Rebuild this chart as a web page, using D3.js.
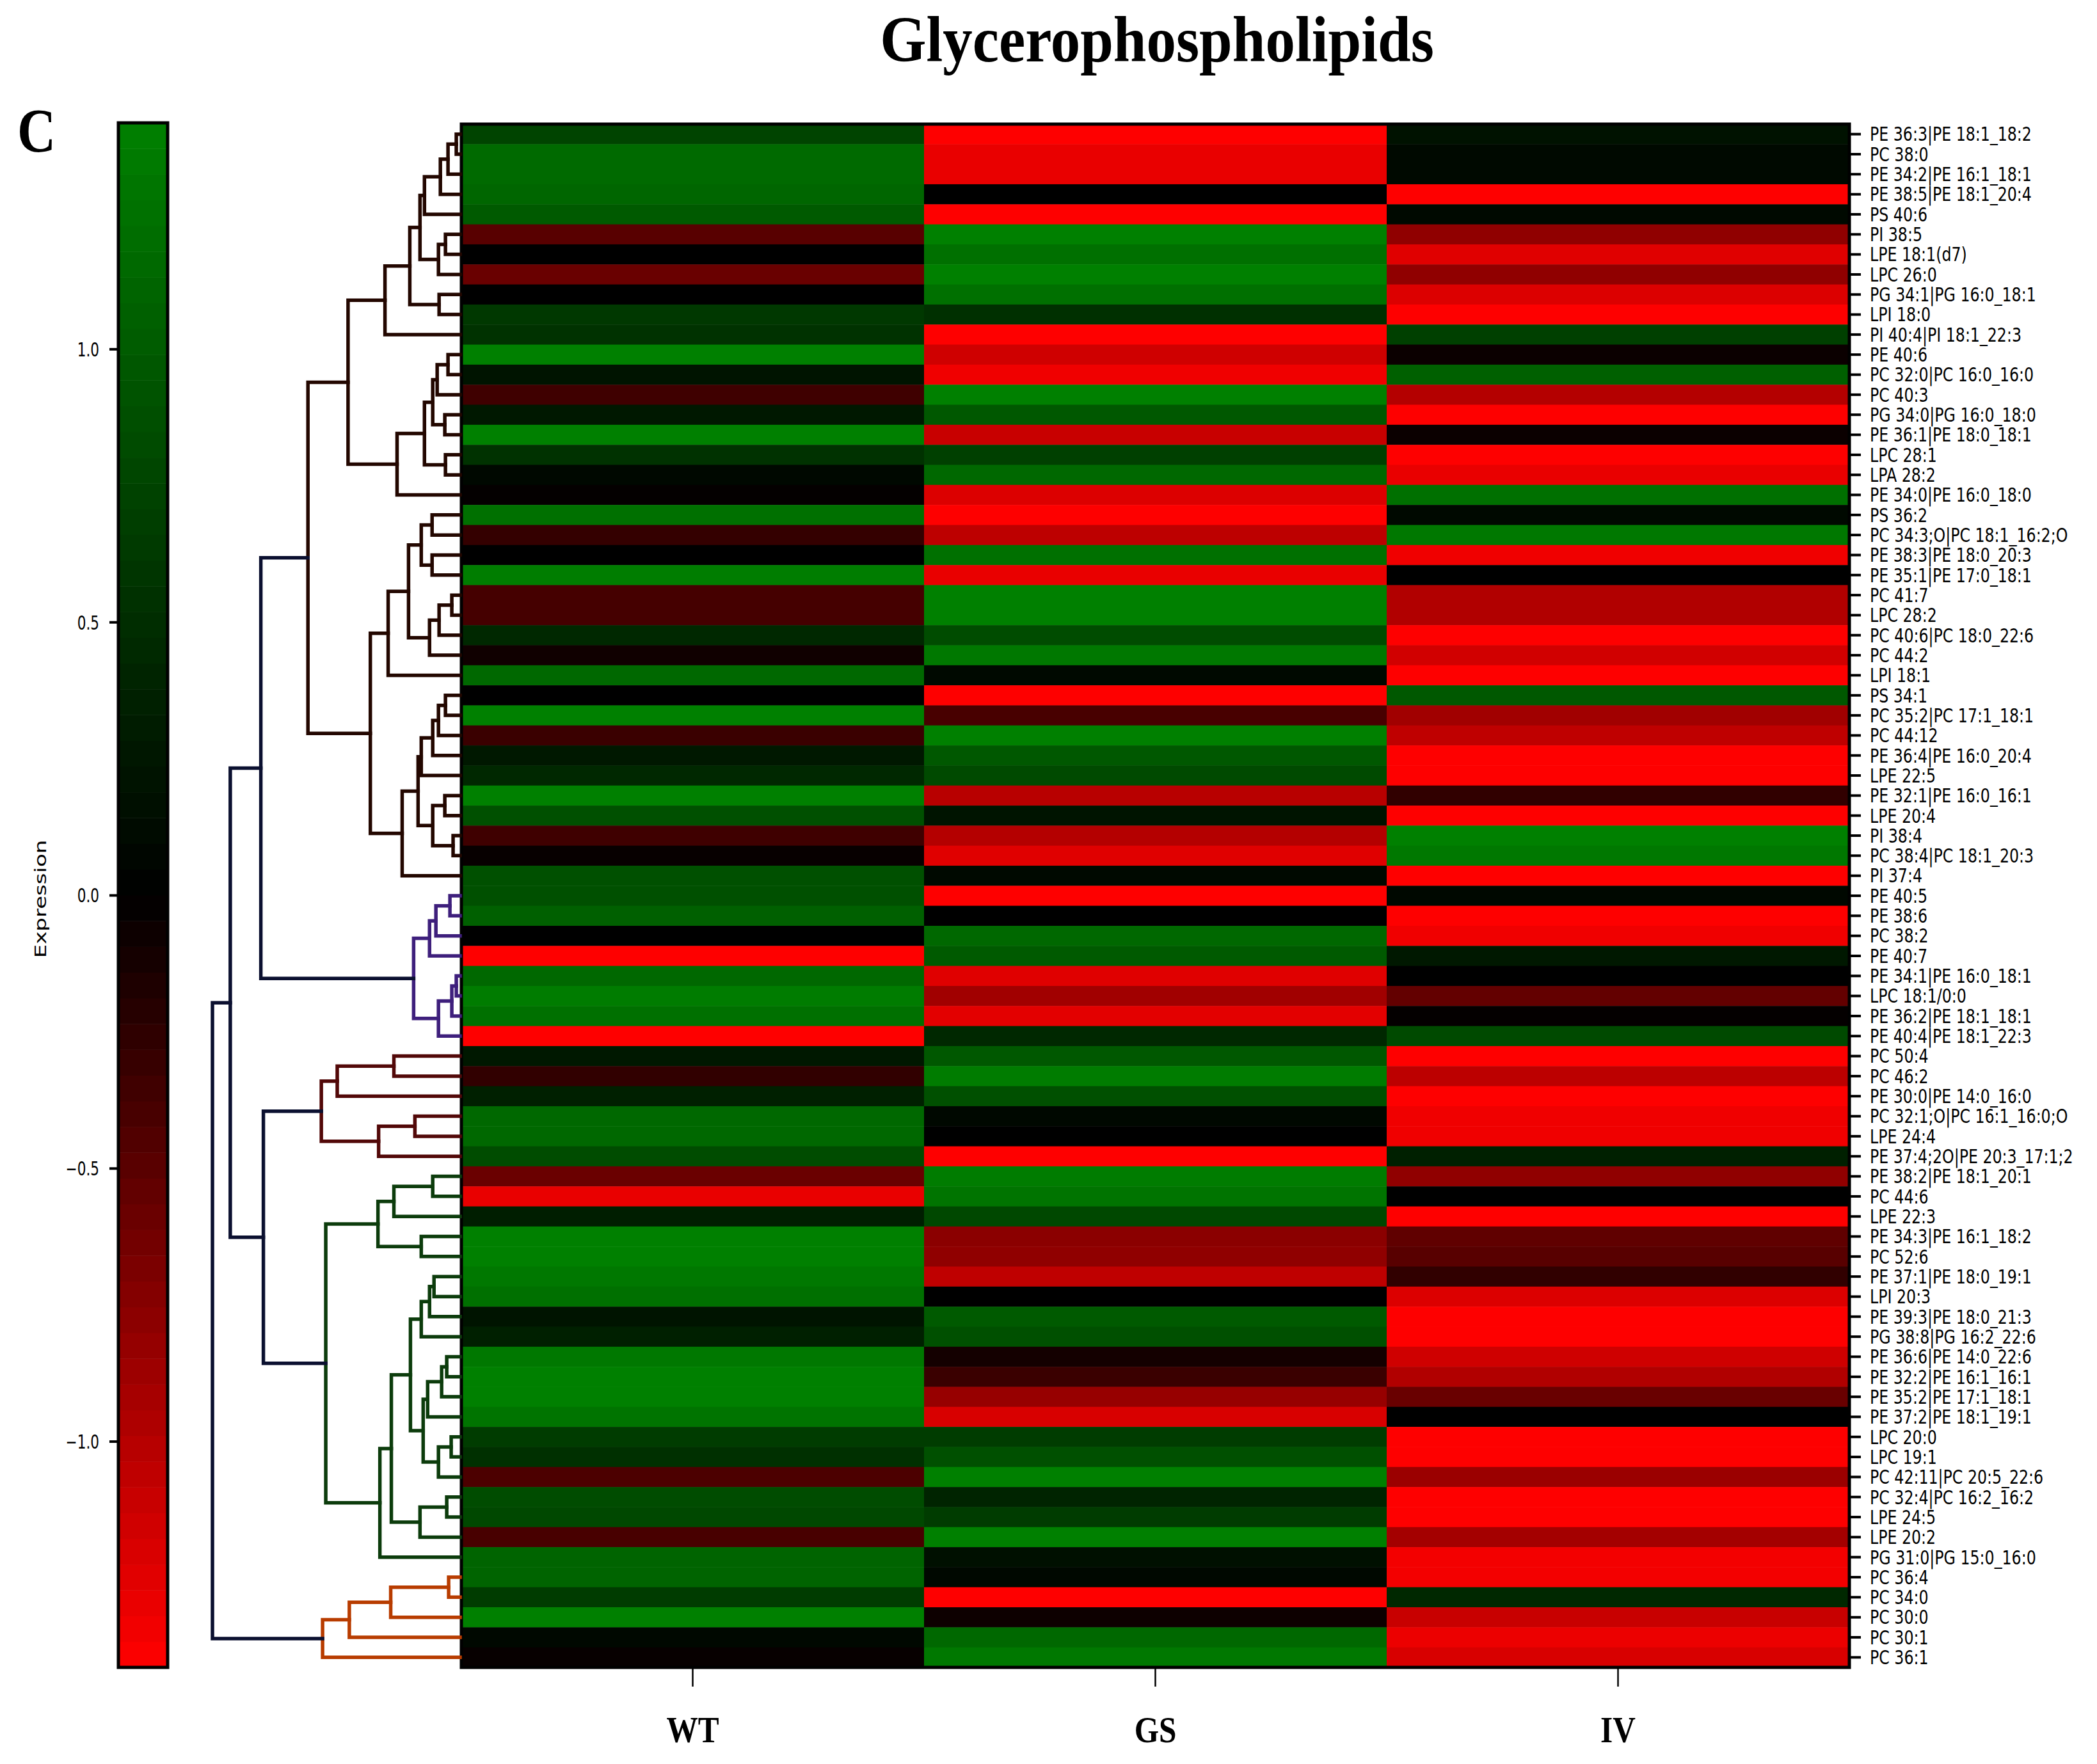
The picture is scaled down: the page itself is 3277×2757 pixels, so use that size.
<!DOCTYPE html>
<html>
<head>
<meta charset="utf-8">
<script src="https://cdn.jsdelivr.net/npm/d3@7"></script>
<style>body{margin:0;background:#fff}</style>
</head>
<body>
<script>
// rows, in dendrogram order (top to bottom)
const lipids = [
  "PE 36:3|PE 18:1_18:2","PC 38:0","PE 34:2|PE 16:1_18:1","PE 38:5|PE 18:1_20:4","PS 40:6",
  "PI 38:5","LPE 18:1(d7)","LPC 26:0","PG 34:1|PG 16:0_18:1","LPI 18:0",
  "PI 40:4|PI 18:1_22:3","PE 40:6","PC 32:0|PC 16:0_16:0","PC 40:3","PG 34:0|PG 16:0_18:0",
  "PE 36:1|PE 18:0_18:1","LPC 28:1","LPA 28:2","PE 34:0|PE 16:0_18:0","PS 36:2",
  "PC 34:3;O|PC 18:1_16:2;O","PE 38:3|PE 18:0_20:3","PE 35:1|PE 17:0_18:1","PC 41:7","LPC 28:2",
  "PC 40:6|PC 18:0_22:6","PC 44:2","LPI 18:1","PS 34:1","PC 35:2|PC 17:1_18:1",
  "PC 44:12","PE 36:4|PE 16:0_20:4","LPE 22:5","PE 32:1|PE 16:0_16:1","LPE 20:4",
  "PI 38:4","PC 38:4|PC 18:1_20:3","PI 37:4","PE 40:5","PE 38:6",
  "PC 38:2","PE 40:7","PE 34:1|PE 16:0_18:1","LPC 18:1/0:0","PE 36:2|PE 18:1_18:1",
  "PE 40:4|PE 18:1_22:3","PC 50:4","PC 46:2","PE 30:0|PE 14:0_16:0","PC 32:1;O|PC 16:1_16:0;O",
  "LPE 24:4","PE 37:4;2O|PE 20:3_17:1;2","PE 38:2|PE 18:1_20:1","PC 44:6","LPE 22:3",
  "PE 34:3|PE 16:1_18:2","PC 52:6","PE 37:1|PE 18:0_19:1","LPI 20:3","PE 39:3|PE 18:0_21:3",
  "PG 38:8|PG 16:2_22:6","PE 36:6|PE 14:0_22:6","PE 32:2|PE 16:1_16:1","PE 35:2|PE 17:1_18:1","PE 37:2|PE 18:1_19:1",
  "LPC 20:0","LPC 19:1","PC 42:11|PC 20:5_22:6","PC 32:4|PC 16:2_16:2","LPE 24:5",
  "LPE 20:2","PG 31:0|PG 15:0_16:0","PC 36:4","PC 34:0","PC 30:0",
  "PC 30:1","PC 36:1"
];
const groups = ["WT", "GS", "IV"];

// row z-scores
const wt = [0.75,1.17,1.17,1.13,0.99,-0.49,0,-0.58,0,0.62,
  0.55,1.41,0.22,-0.35,0.27,1.41,0.55,0.09,-0.02,1.24,
  -0.29,0,1.38,-0.38,-0.38,0.44,-0.09,1.15,0,1.41,
  -0.32,0.27,0.44,1.41,0.88,-0.35,-0.04,0.88,0.88,1.06,
  0,-1.41,1.15,1.37,1.24,-1.41,0.27,-0.27,0.35,1.15,
  1.15,0.84,-0.59,-1.29,0.33,1.41,1.41,1.33,1.24,0.22,
  0.35,1.33,1.41,1.41,1.28,0.66,0.53,-0.42,0.84,0.8,
  -0.4,1.1,1.1,0.66,1.41,0.09,-0.04];
const gs = [-1.41,-1.29,-1.29,0,-1.41,1.41,1.24,1.41,1.24,0.53,
  -1.41,-1.15,-1.33,1.41,0.97,-1.11,0.71,1.15,-1.22,-1.41,
  -1.05,1.24,-1.29,1.41,1.41,0.84,1.33,0.1,-1.41,-0.4,
  1.41,0.97,0.82,-1.02,0.22,-1.0,-1.24,0.1,-1.41,0,
  1.15,0.99,-1.24,-0.89,-1.26,0.44,0.97,1.37,0.88,0.09,
  0,-1.41,1.37,1.28,0.8,-0.77,-0.8,-1.06,0,0.99,
  0.88,-0.11,-0.32,-0.84,-1.2,0.66,0.88,1.41,0.4,0.66,
  1.41,0.18,0.09,-1.41,-0.07,1.15,1.33];
const iv = [0.2,0.1,0.1,-1.41,0.1,-0.8,-1.24,-0.8,-1.22,-1.41,
  0.71,-0.06,1.06,-1.0,-1.41,-0.06,-1.41,-1.29,1.24,0.1,
  1.33,-1.33,0,-0.98,-0.98,-1.41,-1.16,-1.41,0.97,-0.89,
  -1.06,-1.41,-1.41,-0.27,-1.41,1.41,1.33,-1.41,0.09,-1.41,
  -1.33,0.27,0,-0.55,-0.02,0.82,-1.41,-1.04,-1.41,-1.33,
  -1.33,0.35,-0.8,0,-1.41,-0.53,-0.49,-0.27,-1.22,-1.41,
  -1.41,-1.15,-0.98,-0.58,0,-1.41,-1.41,-0.86,-1.41,-1.41,
  -0.91,-1.35,-1.35,0.44,-1.11,-1.31,-1.2];

// linkage, scipy style: [child a, child b, height]; ids >= 77 are earlier merges
const merges = [
  [0,1,0.06],[77,2,0.19],[78,3,0.31],[79,4,0.56],[5,6,0.23],[81,7,0.34],[80,82,0.63],[8,9,0.33],
  [83,84,0.79],[85,10,1.18],[11,12,0.19],[87,13,0.36],[14,15,0.24],[88,89,0.43],[16,17,0.23],
  [90,91,0.56],[92,18,0.99],[86,93,1.76],[19,20,0.44],[21,22,0.44],[95,96,0.61],[23,24,0.13],
  [98,25,0.33],[99,26,0.48],[97,100,0.81],[101,27,1.13],[28,29,0.23],[103,30,0.34],[104,31,0.43],
  [105,32,0.61],[33,34,0.24],[35,36,0.11],[107,108,0.43],[106,109,0.66],[110,37,0.91],
  [102,111,1.41],[94,112,2.39],
  [38,39,0.16],[114,40,0.38],[115,41,0.48],[42,43,0.06],[117,44,0.13],[118,45,0.34],
  [116,119,0.73],[113,120,3.13],
  [46,47,1.04],[122,48,1.93],[49,50,0.71],[124,51,1.28],[123,125,2.18],
  [52,53,0.43],[127,54,1.04],[55,56,0.61],[128,129,1.29],[57,58,0.41],[131,59,0.48],[132,60,0.61],
  [61,62,0.21],[134,63,0.29],[135,64,0.51],[65,66,0.14],[137,67,0.34],[136,138,0.58],
  [133,139,0.78],[68,69,0.21],[141,70,0.63],[140,142,1.08],[143,71,1.26],[130,144,2.11],
  [126,145,3.09],[121,146,3.61],
  [72,73,0.18],[148,74,1.09],[149,75,1.74],[150,76,2.16],[147,151,3.89]
];
const clusterSizes = [38, 8, 6, 20, 5];
const clusterColors = ["#230700", "#3e1f7c", "#520808", "#0c3c0c", "#b83c00"];
const aboveColor = "#0b1030";
const cbTicks = [-1, -0.5, 0, 0.5, 1];

const W = 3277, H = 2757;
const svg = d3.select("body").append("svg").attr("width", W).attr("height", H);

const hm = {left: 721, right: 2890, top: 194, bottom: 2606};
const y = d3.scaleBand().domain(d3.range(lipids.length)).range([hm.top, hm.bottom]);
const x = d3.scaleBand().domain(groups).range([hm.left, hm.right]);
const vmax = 1.414;
const color = d3.scaleLinear().domain([-vmax, 0, vmax])
  .range(["#ff0000", "#000000", "#008000"]).clamp(true);

// ---- heatmap cells ----
const cells = [];
lipids.forEach((name, i) => {
  [wt, gs, iv].forEach((s, j) => cells.push({i, g: groups[j], v: s[i]}));
});
svg.append("g").selectAll("rect").data(cells).join("rect")
  .attr("x", d => x(d.g)).attr("y", d => y(d.i))
  .attr("width", x.bandwidth() + 0.5).attr("height", y.bandwidth() + 0.5)
  .attr("fill", d => color(d.v));

svg.append("rect")
  .attr("x", hm.left).attr("y", hm.top)
  .attr("width", hm.right - hm.left).attr("height", hm.bottom - hm.top)
  .attr("fill", "none").attr("stroke", "#000").attr("stroke-width", 5);

// ---- dendrogram ----
const n = lipids.length;
const leafCluster = clusterSizes.flatMap((s, c) => d3.range(s).map(() => c));
const nodes = d3.range(n).map(i => ({pos: y(i) + y.bandwidth() / 2, h: 0, cl: leafCluster[i]}));
merges.forEach(([a, b, h]) => {
  const A = nodes[a], B = nodes[b];
  nodes.push({a: A, b: B, h, pos: (A.pos + B.pos) / 2, cl: A.cl === B.cl ? A.cl : -1});
});
const dx = d3.scaleLinear().domain([0, d3.max(merges, m => m[2])]).range([hm.left - 2, 332]);

svg.append("g")
    .attr("fill", "none").attr("stroke-width", 5.5).attr("stroke-linecap", "square")
  .selectAll("path").data(nodes.slice(n)).join("path")
    .attr("stroke", d => d.cl < 0 ? aboveColor : clusterColors[d.cl])
    .attr("d", d => `M${dx(d.a.h)},${d.a.pos}H${dx(d.h)}V${d.b.pos}H${dx(d.b.h)}`);

// ---- row labels ----
const rowAxis = svg.append("g").attr("transform", `translate(${hm.right},0)`)
  .call(d3.axisRight(y).tickSize(18).tickFormat(i => lipids[i]));
rowAxis.select(".domain").remove();
rowAxis.selectAll("line").attr("stroke", "#000").attr("stroke-width", 4);
rowAxis.selectAll("text")
  .attr("font-family", "DejaVu Sans").attr("font-size", 30).attr("fill", "#000")
  .attr("x", 32 / 0.79).attr("dy", "0.36em")
  .attr("transform", "scale(0.79,1)");

// ---- column labels ----
const colAxis = svg.append("g").attr("transform", `translate(0,${hm.bottom})`)
  .call(d3.axisBottom(x).tickSize(30));
colAxis.select(".domain").remove();
colAxis.selectAll("line").attr("stroke", "#000").attr("stroke-width", 2.5);
colAxis.selectAll("text")
  .attr("font-family", "Liberation Serif").attr("font-weight", "bold")
  .attr("font-size", 58).attr("fill", "#000")
  .attr("y", 117).attr("dy", 0)
  .attr("transform", "scale(0.85,1)");

// ---- colour bar ----
const cb = {left: 185, right: 262, top: 192, bottom: 2606};
const cy = d3.scaleLinear().domain([-vmax, vmax]).range([cb.bottom, cb.top]);
const nSteps = 60;
const steps = d3.range(nSteps).map(k => -vmax + (k + 0.5) * 2 * vmax / nSteps);
svg.append("g").selectAll("rect").data(steps).join("rect")
  .attr("x", cb.left).attr("width", cb.right - cb.left)
  .attr("y", d => cy(d + vmax / nSteps))
  .attr("height", (cb.bottom - cb.top) / nSteps + 0.5)
  .attr("fill", d => color(d));
svg.append("rect")
  .attr("x", cb.left).attr("y", cb.top)
  .attr("width", cb.right - cb.left).attr("height", cb.bottom - cb.top)
  .attr("fill", "none").attr("stroke", "#000").attr("stroke-width", 5);

const cbAxis = svg.append("g").attr("transform", `translate(${cb.left},0)`)
  .call(d3.axisLeft(cy).tickValues(cbTicks).tickSize(14).tickFormat(d3.format(".1f")));
cbAxis.select(".domain").remove();
cbAxis.selectAll("line").attr("stroke", "#000").attr("stroke-width", 4);
cbAxis.selectAll("text")
  .attr("font-family", "DejaVu Sans").attr("font-size", 30).attr("fill", "#000")
  .attr("x", -30 / 0.72).attr("dy", "0.36em")
  .attr("transform", "scale(0.72,1)");

svg.append("text")
  .attr("transform", "translate(72,1405) rotate(-90) scale(1,0.72)")
  .attr("text-anchor", "middle")
  .attr("font-family", "DejaVu Sans").attr("font-size", 34)
  .text("Expression");

// ---- title and panel letter ----
svg.append("text")
  .attr("transform", "translate(1808,96) scale(0.92,1)")
  .attr("text-anchor", "middle")
  .attr("font-family", "Liberation Serif").attr("font-weight", "bold").attr("font-size", 101)
  .text("Glycerophospholipids");

svg.append("text")
  .attr("transform", "translate(27,237) scale(0.85,1)")
  .attr("font-family", "Liberation Serif").attr("font-weight", "bold").attr("font-size", 98)
  .text("C");
</script>
</body>
</html>
